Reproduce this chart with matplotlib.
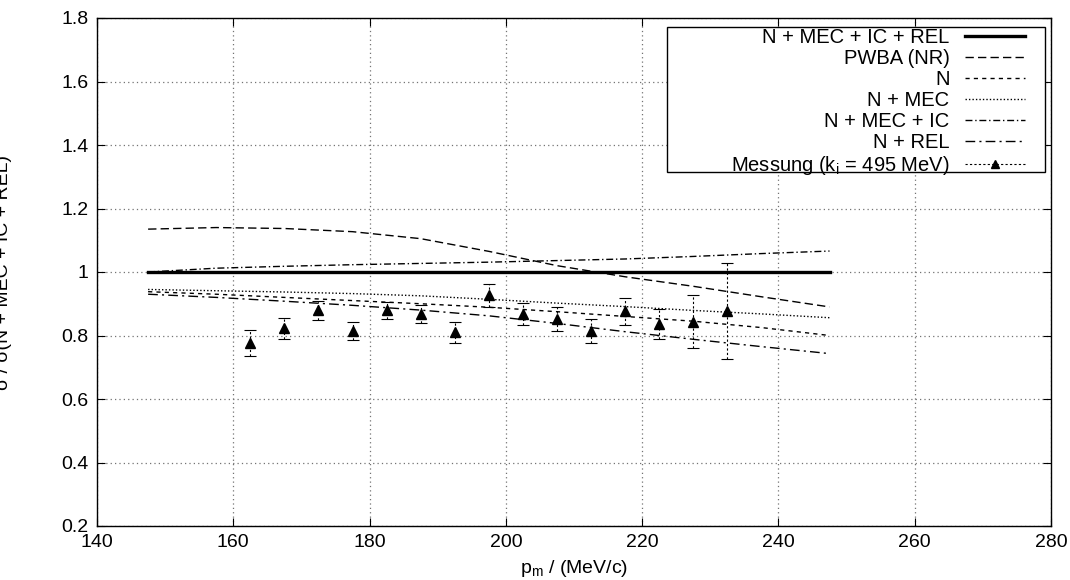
import matplotlib

matplotlib.use("Agg")
import matplotlib.pyplot as plt
from matplotlib.lines import Line2D
from matplotlib.patches import Rectangle

plt.rcParams["font.family"] = ["Liberation Sans", "DejaVu Sans"]
plt.rcParams["font.size"] = 14

# theory curves, ratio to the full calculation
p_theory = [147.5, 157.5, 167.5, 177.5, 187.5, 197.5, 207.5, 217.5, 227.5, 237.5, 247.5]
full = [1.0] * 11
pwba_nr = [1.135, 1.14, 1.137, 1.127, 1.105, 1.065, 1.02, 0.985, 0.955, 0.922, 0.89]
n_only = [0.938, 0.93, 0.92, 0.91, 0.9, 0.889, 0.875, 0.86, 0.845, 0.825, 0.80]
n_mec = [0.945, 0.941, 0.937, 0.932, 0.925, 0.914, 0.902, 0.891, 0.879, 0.868, 0.856]
n_mec_ic = [1.0, 1.012, 1.018, 1.023, 1.027, 1.031, 1.036, 1.041, 1.049, 1.058, 1.066]
n_rel = [0.93, 0.92, 0.908, 0.895, 0.88, 0.862, 0.838, 0.812, 0.788, 0.765, 0.743]

# measurement (k_i = 495 MeV)
p_meas = [162.5, 167.5, 172.5, 177.5, 182.5, 187.5, 192.5, 197.5,
          202.5, 207.5, 212.5, 217.5, 222.5, 227.5, 232.5]
meas = [0.776, 0.823, 0.879, 0.813, 0.880, 0.868, 0.810, 0.926,
        0.868, 0.852, 0.813, 0.876, 0.836, 0.844, 0.876]
meas_err = [0.040, 0.033, 0.030, 0.028, 0.027, 0.029, 0.033, 0.036,
            0.035, 0.038, 0.038, 0.043, 0.047, 0.084, 0.151]

fig = plt.figure(figsize=(10.7, 5.8), dpi=100)
ax = fig.add_axes([97 / 1070, 1 - 526 / 580, 954 / 1070, 508 / 580])

ax.plot(p_theory, full, color="k", lw=2.4, label="N + MEC + IC + REL")
ax.plot(p_theory, pwba_nr, color="k", lw=1.0, ls=(0, (6, 3)), label="PWBA (NR)")
ax.plot(p_theory, n_only, color="k", lw=1.0, ls=(0, (3, 3)), label="N")
ax.plot(p_theory, n_mec, color="k", lw=1.0, ls=(0, (1, 1.5)), label="N + MEC")
ax.plot(p_theory, n_mec_ic, color="k", lw=1.0, ls=(0, (5, 2, 1, 2)), label="N + MEC + IC")
ax.plot(p_theory, n_rel, color="k", lw=1.0, ls=(0, (7, 3, 1.5, 3)), label="N + REL")

eb = ax.errorbar(p_meas, meas, yerr=meas_err, fmt="^", color="k", ms=7,
                 elinewidth=0.8, capsize=4, capthick=0.8)
eb[2][0].set_linestyle((0, (2, 2)))

# gnuplot-style key box: wide frame, right-aligned entries
ax.add_patch(Rectangle((0.5975, 0.697), 0.396, 0.285, transform=ax.transAxes,
                       facecolor="white", edgecolor="k", lw=1.0, zorder=4))

handles, labels = ax.get_legend_handles_labels()
handles.append(Line2D([], [], color="k", lw=0.8, ls=(0, (2, 2)), marker="^", ms=6))
labels.append(r"Messung (k$_\mathregular{i}$ = 495 MeV)")
leg = ax.legend(handles, labels, loc="upper right",
                bbox_to_anchor=((1025 - 97) / 954, (526 - 28) / 508),
                markerfirst=False, frameon=False, fontsize=14.5,
                labelspacing=0.1, handlelength=3.0, handletextpad=0.75,
                borderpad=0, borderaxespad=0)
leg.set_zorder(5)
for txt in leg.get_texts():
    txt.set_ha("right")
leg._legend_box.align = "right"

ax.set_xlim(140, 280)
ax.set_ylim(0.2, 1.8)
ax.set_xticks(range(140, 281, 20))
ax.set_yticks([0.2, 0.4, 0.6, 0.8, 1.0, 1.2, 1.4, 1.6, 1.8])
ax.set_yticklabels(["0.2", "0.4", "0.6", "0.8", "1", "1.2", "1.4", "1.6", "1.8"])
ax.grid(True, color="0.45", ls=(0, (1, 2.5)), lw=0.9)
ax.tick_params(direction="in", top=True, right=True, length=6, width=0.8, pad=6)
for s in ax.spines.values():
    s.set_linewidth(1.0)

ax.set_xlabel(r"$\mathregular{p_m}$ / (MeV/c)", labelpad=5)
fig.text(12 / 1070, 0.53, r"σ / σ(N + MEC + IC + REL)", rotation=90,
         ha="right", va="center", fontsize=14)

fig.savefig("out.png", dpi=100)
